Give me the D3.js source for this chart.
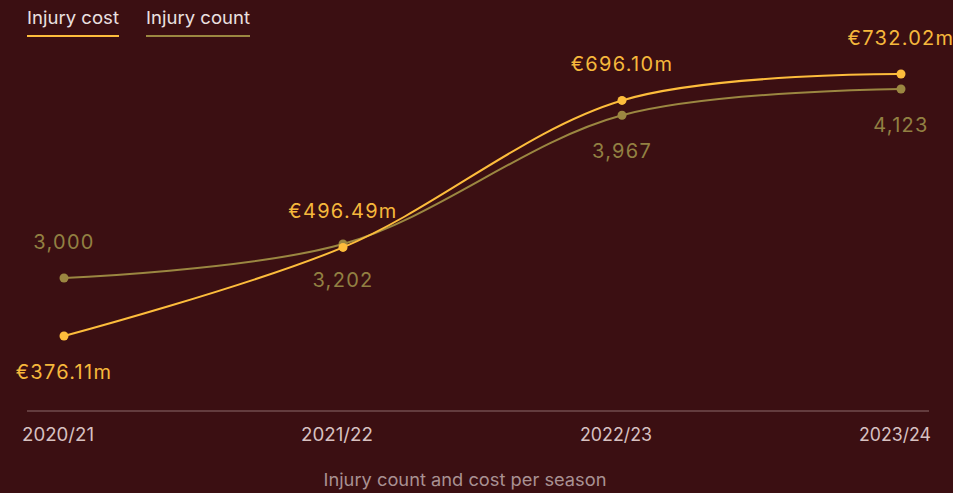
<!DOCTYPE html>
<html>
<head>
<meta charset="utf-8">
<script src="https://cdn.jsdelivr.net/npm/d3@7"></script>
<style>
  html, body { margin: 0; padding: 0; background: #3b0f12; }
  svg { display: block; font-family: Inter, "Noto Sans", sans-serif; }
</style>
</head>
<body>
<svg id="chart" width="953" height="493"></svg>
<script>
var seasons = ["2020/21", "2021/22", "2022/23", "2023/24"];
var injuryCost = [376.11, 496.49, 696.10, 732.02];   // € millions
var injuryCount = [3000, 3202, 3967, 4123];
var seriesNames = ["Injury cost", "Injury count"];

var svg = d3.select("#chart"),
  width = +svg.attr("width"),
  height = +svg.attr("height");

var costColor = "#fdbd3c",
  countColor = "#9b8741";

svg.append("rect")
  .attr("width", width)
  .attr("height", height)
  .attr("fill", "#3b0f12");

var x = d3.scalePoint()
  .domain(seasons)
  .range([64, 901]);

var yCost = d3.scaleLinear()
  .domain(d3.extent(injuryCost))
  .range([336, 74]);

var yCount = d3.scaleLinear()
  .domain(d3.extent(injuryCount))
  .range([278, 89]);

// baseline + season labels
svg.append("line")
  .attr("x1", 27).attr("x2", 929)
  .attr("y1", 411).attr("y2", 411)
  .attr("stroke", "#8c6a6b")
  .attr("stroke-width", 1.2);

svg.append("g")
  .selectAll("text")
  .data(seasons)
  .enter().append("text")
  .attr("x", function (d) { return x(d) - 6; })
  .attr("y", 441)
  .attr("text-anchor", "middle")
  .attr("fill", "#d7c1c1")
  .attr("font-size", 18)
  .attr("textLength", 72)
  .attr("lengthAdjust", "spacingAndGlyphs")
  .text(function (d) { return d; });

svg.append("text")
  .attr("x", 465)
  .attr("y", 486)
  .attr("text-anchor", "middle")
  .attr("fill", "#a99192")
  .attr("font-size", 17.5)
  .attr("textLength", 283)
  .attr("lengthAdjust", "spacingAndGlyphs")
  .text("Injury count and cost per season");

var series = [
  { name: seriesNames[1], values: injuryCount, y: yCount, color: countColor,
    fmt: d3.format(","), textColor: "#928042" },
  { name: seriesNames[0], values: injuryCost, y: yCost, color: costColor,
    fmt: function (v) { return "€" + d3.format(".2f")(v) + "m"; }, textColor: "#f6b83c" }
];

series.forEach(function (s) {
  var line = d3.line()
    .curve(d3.curveCatmullRom)
    .x(function (d, i) { return x(seasons[i]); })
    .y(function (d) { return s.y(d); });

  svg.append("path")
    .datum(s.values)
    .attr("fill", "none")
    .attr("stroke", s.color)
    .attr("stroke-width", 2)
    .attr("d", line);

  svg.append("g")
    .selectAll("circle")
    .data(s.values)
    .enter().append("circle")
    .attr("cx", function (d, i) { return x(seasons[i]); })
    .attr("cy", function (d) { return s.y(d); })
    .attr("r", 4.5)
    .attr("fill", s.color);
});

// value labels: cost sits above its point, count below (swapped for the first season)
series.forEach(function (s) {
  var above = s.name === "Injury cost";
  svg.append("g")
    .selectAll("text")
    .data(s.values)
    .enter().append("text")
    .attr("x", function (d, i) { return x(seasons[i]); })
    .attr("y", function (d, i) {
      var up = i === 0 ? !above : above;
      return s.y(d) + (up ? -29 : 43);
    })
    .attr("text-anchor", "middle")
    .attr("fill", s.textColor)
    .attr("font-size", 20)
    .attr("letter-spacing", 1.3)
    .text(function (d) { return s.fmt(d); });
});

// legend
var legend = [
  { name: seriesNames[0], color: costColor, x: 27, w: 92 },
  { name: seriesNames[1], color: countColor, x: 146, w: 104 }
];

var lg = svg.append("g")
  .selectAll("g")
  .data(legend)
  .enter().append("g");

lg.append("text")
  .attr("x", function (d) { return d.x; })
  .attr("y", 24)
  .attr("fill", "#ebe0e0")
  .attr("font-size", 17.5)
  .attr("textLength", function (d) { return d.w; })
  .attr("lengthAdjust", "spacingAndGlyphs")
  .text(function (d) { return d.name; });

lg.append("line")
  .attr("x1", function (d) { return d.x; })
  .attr("x2", function (d) { return d.x + d.w; })
  .attr("y1", 36).attr("y2", 36)
  .attr("stroke", function (d) { return d.color; })
  .attr("stroke-width", 2);
</script>
</body>
</html>
